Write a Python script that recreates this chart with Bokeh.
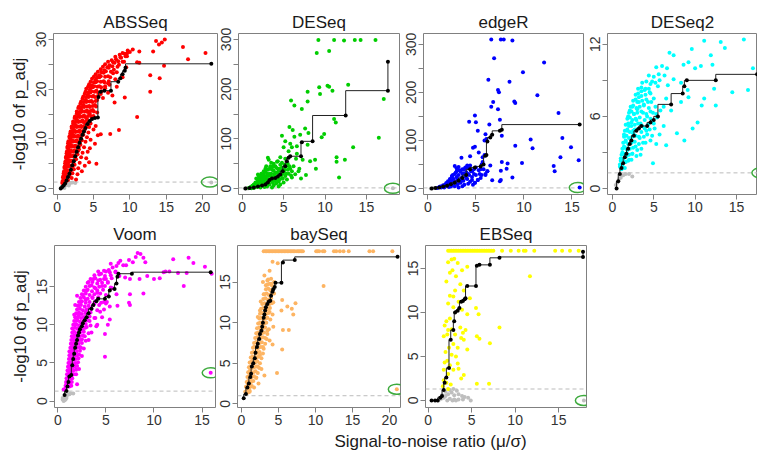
from bokeh.plotting import figure
from bokeh.layouts import row, column
from bokeh.models import FixedTicker, Span, Label
from bokeh.embed import file_html
from bokeh.resources import INLINE

FONT = "Liberation Sans"

TITLES = ["ABSSeq", "DESeq", "edgeR", "DESeq2", "Voom", "baySeq", "EBSeq"]
COLORS = ["#FF0000", "#00CD00", "#0000FF", "#00FFFF", "#FF00FF", "#FDB462", "#FFFF00"]
YLABEL = "-log10 of p_adj"
XLABEL = "Signal-to-noise ratio (\u03bc/\u03c3)"
THRESH = [1.3, 1.3, 1.3, 1.3, 1.3, 1.0, 1.3]

# ---------------- ABSSeq ----------------
ABS_SIG = [(0.7,1.1),(0.9,0.8),(1.1,1.4),(0.8,2.2),(1.0,1.9),(1.3,2.3),(1.5,1.7),(0.9,3.1),(1.1,2.8),(1.4,3.3),(1.7,2.6),(2.0,2.1),
 (1.0,4.2),(1.2,3.8),(1.5,4.4),(1.8,3.6),(2.1,3.1),(2.6,1.8),(1.1,5.1),(1.3,4.8),(1.6,5.3),(1.9,4.6),(2.3,3.9),(2.8,2.9),(5.4,5.0),
 (1.2,6.2),(1.4,5.8),(1.7,6.4),(2.0,5.6),(2.4,4.8),(2.9,4.1),(3.4,3.5),(1.3,7.1),(1.5,6.8),(1.8,7.3),(2.2,6.7),(2.6,5.9),(3.1,5.2),
 (3.8,4.6),(1.4,8.2),(1.6,7.8),(2.0,8.4),(2.4,7.7),(2.8,6.9),(3.3,6.3),(4.0,6.1),(4.4,5.3),(1.5,9.1),(1.8,8.8),(2.1,9.4),(2.5,8.6),
 (3.0,7.9),(3.5,7.2),(4.2,7.4),(1.7,10.2),(1.9,9.8),(2.3,10.4),(2.7,9.7),(3.2,8.8),(3.7,8.3),(4.5,8.1),(5.6,10.7),(1.8,11.1),(2.1,10.8),
 (2.5,11.4),(2.9,10.6),(3.4,9.7),(3.9,9.4),(5.2,9.0),(6.0,10.9),(7.3,11.0),(2.0,12.2),(2.3,11.8),(2.7,12.4),(3.1,11.7),(3.6,10.8),
 (4.1,10.3),(4.6,9.8),(8.5,11.8),(2.2,13.1),(2.5,12.8),(2.9,13.4),(3.3,12.6),(3.8,11.9),(4.3,11.3),(2.4,14.2),(2.7,13.8),(3.1,14.4),
 (3.5,13.7),(3.9,13.0),(4.4,12.4),(5.0,11.9),(11.0,14.4),(2.7,15.1),(3.0,14.8),(3.3,15.4),(3.7,14.7),(4.1,14.0),(4.6,13.1),(5.3,12.6),
 (2.9,16.2),(3.3,15.9),(3.7,16.4),(4.1,15.7),(4.5,15.0),(5.0,14.6),(3.2,17.1),(3.6,16.8),(4.0,17.4),(4.4,16.6),(4.9,15.8),(5.5,15.3),
 (7.9,17.3),(3.5,18.1),(3.9,17.8),(4.3,18.4),(4.7,17.6),(5.2,16.8),(9.3,18.3),(3.8,19.1),(4.2,18.8),(4.6,19.4),(5.0,18.6),(5.5,17.8),
 (6.3,18.2),(12.8,19.5),(4.0,20.1),(4.5,19.9),(4.9,20.4),(5.4,19.7),(6.0,19.0),(7.0,19.3),(7.6,18.7),(4.4,21.0),(4.8,20.8),(5.3,21.4),
 (5.8,20.6),(6.6,20.2),(7.2,20.9),(8.2,20.5),(4.8,22.1),(5.3,21.9),(5.8,22.4),(6.4,21.6),(7.0,21.2),(8.0,22.0),(14.1,22.2),(5.3,23.0),
 (5.8,22.8),(6.4,23.3),(7.0,22.6),(7.7,23.2),(9.0,22.4),(12.8,22.8),(6.0,24.0),(6.5,23.8),(7.1,24.3),(7.8,23.9),(9.5,24.4),(6.6,25.0),
 (7.2,24.8),(7.9,25.3),(8.5,24.9),(9.2,25.5),(11.0,25.4),(11.3,25.3),(14.7,24.7),(7.5,25.8),(8.1,26.0),(8.8,26.3),(9.6,26.6),(18.0,26.0),
 (8.6,26.9),(9.3,27.1),(10.0,27.5),(11.3,27.6),(13.2,27.6),(20.4,27.3),(9.7,27.8),(10.4,28.0),(17.3,28.5),(14.0,29.0),(14.4,29.4),
 (13.6,29.7),(14.8,30.0)]
ABS_CORE = [(0.75,1.5),(1.0,1.6),(1.2,1.4),(0.85,2.5),(1.1,2.6),(1.35,2.4),(1.6,2.5),(0.95,3.5),(1.2,3.4),(1.45,3.6),(1.75,3.5),
 (1.05,4.5),(1.3,4.4),(1.55,4.6),(1.85,4.5),(2.1,4.4),(1.15,5.5),(1.4,5.4),(1.65,5.6),(1.95,5.5),(2.2,5.4),(1.25,6.5),(1.5,6.4),
 (1.8,6.6),(2.1,6.5),(2.45,6.4),(1.35,7.5),(1.6,7.4),(1.9,7.6),(2.2,7.5),(2.55,7.4),(2.9,7.6),(1.45,8.5),(1.7,8.4),(2.0,8.6),(2.3,8.5),
 (2.65,8.4),(3.0,8.6),(1.55,9.5),(1.85,9.4),(2.15,9.6),(2.45,9.5),(2.8,9.4),(3.15,9.6),(1.7,10.5),(2.0,10.4),(2.3,10.6),(2.6,10.5),
 (2.95,10.4),(3.35,10.6),(1.85,11.5),(2.15,11.4),(2.45,11.6),(2.8,11.5),(3.15,11.4),(3.55,11.6),(2.0,12.5),(2.3,12.4),(2.65,12.6),
 (3.0,12.5),(3.35,12.4),(3.75,12.6),(4.1,12.5),(2.2,13.5),(2.5,13.4),(2.85,13.6),(3.2,13.5),(3.6,13.4),(4.0,13.6),(4.4,13.5),
 (2.45,14.5),(2.75,14.4),(3.1,14.6),(3.45,14.5),(3.85,14.4),(4.25,14.6),(4.7,14.5),(2.7,15.5),(3.05,15.4),(3.4,15.6),(3.8,15.5),
 (4.2,15.4),(4.6,15.6),(5.05,15.5),(3.0,16.5),(3.35,16.4),(3.7,16.6),(4.1,16.5),(4.5,16.4),(4.9,16.6),(5.35,16.5),(3.3,17.5),
 (3.65,17.4),(4.05,17.6),(4.45,17.5),(4.85,17.4),(5.3,17.6),(3.6,18.5),(4.0,18.4),(4.4,18.6),(4.8,18.5),(5.2,18.4),(5.6,18.6),
 (3.9,19.5),(4.3,19.4),(4.7,19.6),(5.15,19.5),(5.6,19.4),(6.1,19.6),(4.25,20.5),(4.65,20.4),(5.1,20.6),(5.55,20.5),(6.05,20.4),
 (6.6,20.6),(4.6,21.5),(5.05,21.4),(5.5,21.6),(6.0,21.5),(6.5,21.4),(7.1,21.6),(5.05,22.5),(5.5,22.4),(6.0,22.6),(6.6,22.5),
 (7.3,22.4),(5.6,23.5),(6.1,23.4),(6.7,23.6),(7.4,23.5),(8.2,23.4),(6.3,24.5),(6.9,24.4),(7.6,24.6),(8.3,24.5),(7.0,25.5),(7.7,25.4),
 (8.4,25.6),(9.0,25.5),(8.0,26.5),(8.7,26.4),(9.4,26.6),(9.0,27.3),(9.6,27.2)]
ABS_NS = [(0.5,0.1),(0.7,0.4),(0.9,0.3),(1.1,0.6),(1.3,0.8),(1.5,1.0),(1.8,1.1),(2.1,1.2),(2.5,1.1),(1.0,0.1),(1.6,0.6),(21.2,1.2)]
ABS_STEP = [(0.5,0.0),(0.7,0.3),(0.9,0.6),(1.1,1.0),(1.3,1.6),(1.5,2.3),(1.7,3.0),(1.9,3.8),(2.1,4.7),(2.3,5.5),(2.5,6.5),(2.7,7.4),
 (2.9,8.3),(3.1,9.2),(3.3,10.0),(3.5,10.8),(3.7,11.5),(3.9,12.2),(4.2,13.0),(4.5,13.6),(4.8,14.0),(5.2,14.2),(5.6,14.3),(5.7,18.4),
 (6.0,19.5),(6.5,19.7),(7.4,19.7),(8.4,21.5),(8.7,22.2),(9.0,23.0),(9.3,23.7),(9.4,24.3),(21.2,25.1)]
ABS_CIRC = (21.0, 1.3)

# ---------------- DESeq ----------------
DES_SIG = [(0.8,1),(1.0,3),(1.2,2),(1.3,6),(1.5,4),(1.6,9),(1.8,3),(1.9,12),(2.0,7),(2.1,15),(2.2,4),(2.3,10),(2.4,18),(2.5,6),
 (2.6,13),(2.7,22),(2.8,9),(2.9,16),(3.0,30),(3.0,4),(3.1,12),(3.2,25),(3.3,8),(3.3,40),(3.4,18),(3.5,52),(3.5,30),(3.6,14),(3.7,22),
 (3.8,36),(3.8,6),(3.9,28),(4.0,45),(4.0,16),(4.1,10),(4.2,32),(4.3,40),(4.3,22),(4.4,14),(4.5,28),(4.6,48),(4.6,8),(4.7,36),(4.8,20),
 (4.8,42),(4.9,30),(5.0,12),(5.1,38),(5.2,25),(5.3,45),(5.4,18),(5.5,50),(5.6,30),(5.8,40),(6.0,22),(1.7,20),(2.0,25),(2.3,30),(2.6,35),
 (2.9,45),(3.1,62),(3.2,58),(2.2,2),(2.7,3),(3.6,2),(4.4,4),(1.4,1),(1.1,0.5),(2.5,26),(2.8,40),(3.7,44),(4.2,54),(1.9,28),(2.4,12),
 (1.2,5),(1.4,8),(1.6,12),(1.7,6),(1.9,16),(2.0,10),(2.1,20),(2.2,14),(2.3,24),(2.4,9),(2.5,20),(2.6,28),(2.7,15),(2.8,34),(2.9,24),
 (3.0,18),(3.1,38),(3.2,10),(3.3,30),(3.4,45),(3.5,24),(3.6,38),(3.7,12),(3.8,50),(3.9,18),(4.0,32),(4.1,42),(4.2,20),(4.3,55),
 (4.4,36),(4.5,18),(4.6,40),(4.7,26),(4.8,52),(4.9,20),(5.0,35),(5.1,48),(5.3,30),(5.5,38),(5.7,45),(6.0,35),(6.2,45),
 (4.8,106),(5.2,95),(5.7,124),(6.1,118),(5.9,177),(6.3,167),(6.0,83),(6.6,85),(5.6,75),(5.0,83),(6.3,104),(5.8,90),(5.2,60),(6.8,35),
 (7.0,108),(4.6,63),(6.5,60),(6.6,70),(5.9,26),(6.4,29),(6.9,40),(7.1,20),(7.7,27),(7.3,58),(7.9,88),(8.2,55),(8.8,58),(7.6,121),
 (8.0,112),(7.2,160),(7.9,175),(7.9,195),(9.4,190),(9.3,204),(10.3,207),(10.5,205),(10.9,197),(12.8,209),(9.0,273),(10.5,277),
 (9.2,299),(11.1,299),(12.3,298),(13.6,299),(14.3,299),(16.1,299),(17.1,180),(16.5,102),(11.1,140),(11.3,133),(13.4,83),(12.4,58),
 (11.7,22),(11.4,63),(11.4,54),(9.9,110),(9.6,103),(8.9,40)]
DES_NS = [(0.3,0),(0.5,1),(0.7,0),(18.2,0.5)]
DES_STEP = [(0.4,0),(0.9,1),(1.4,2),(1.9,4),(2.4,6),(2.8,8),(3.1,12),(3.3,17),(3.6,20),(4.0,21),(4.3,24),(4.6,28),(4.9,35),(5.2,45),
 (5.4,55),(5.6,62),(5.8,65),(7.1,65),(7.2,93),(8.5,95),(12.5,147),(17.6,197),(17.6,255)]
DES_CIRC = (18.2, 0.5)

# ---------------- edgeR ----------------
EDG_SIG = [(1.0,1),(1.2,3),(1.4,2),(1.5,5),(1.7,4),(1.8,8),(2.0,6),(2.1,10),(2.2,3),(2.3,13),(2.4,7),(2.5,16),(2.6,10),(2.7,20),
 (2.8,5),(2.8,30),(2.9,14),(3.0,24),(3.1,9),(3.2,28),(3.3,18),(3.4,12),(3.4,35),(3.5,22),(3.6,30),(3.7,16),(3.8,40),(3.8,8),(3.9,26),
 (4.0,34),(4.1,20),(4.2,42),(4.3,28),(4.4,14),(4.5,36),(4.6,24),(4.7,8),(4.8,30),(4.9,12),(5.0,44),(5.2,18),(5.3,38),(5.5,22),(5.6,28),
 (5.8,40),(6.0,30),(6.2,36),(2.8,47),(3.2,45),(3.5,64),(4.4,67),(4.7,85),(4.9,87),(5.3,75),(5.7,65),(5.9,70),(5.7,55),(6.5,48),(6.0,28),
 (5.5,40),(4.9,12),(5.2,18),(3.0,36),(3.6,40),(2.5,26),(4.1,48),(1.3,4),(1.6,7),(1.9,11),(2.1,15),(2.3,20),(2.5,24),(2.7,14),(2.9,33),
 (3.1,20),(3.3,38),(3.5,16),(3.7,32),(3.9,44),(4.0,22),(4.2,30),(4.4,48),(4.6,18),(4.8,40),(5.0,28),(5.4,30),(5.6,50),(2.6,28),
 (3.0,42),(2.0,12),(1.7,2),(2.4,4),(3.6,5),(4.2,10),(3.2,2),(4.6,36),
 (6.6,310),(7.6,310),(7.9,310),(8.8,308),(6.9,271),(12.1,262),(9.9,242),
 (6.3,226),(8.5,222),(7.3,205),(7.4,200),(9.0,181),(9.1,178),(11.4,194),(6.8,180),(6.6,170),(7.3,165),(13.6,157),(4.9,152),(4.3,139),
 (5.0,138),(6.4,133),(7.5,143),(14.0,105),(10.7,102),(10.9,84),(9.1,89),(14.9,86),(7.7,110),(6.0,113),(6.1,103),(5.2,120),(5.9,100),
 (13.8,65),(15.7,59),(13.1,47),(13.2,36),(9.8,53),(8.3,52),(7.7,55),(8.2,41),(7.6,37),(7.6,18),(7.5,15),(8.8,23),(6.7,17),(6.2,36),
 (15.8,2)]
EDG_NS = [(0.3,0),(0.5,0.5),(0.7,1)]
EDG_STEP = [(0.4,0),(0.8,1),(1.2,2),(1.6,4),(2.0,6),(2.4,9),(2.8,12),(3.2,16),(3.6,22),(4.0,28),(4.4,40),(4.9,44),(5.5,46),(5.8,50),
 (6.0,68),(6.1,70),(6.2,98),(6.5,106),(6.7,112),(7.5,120),(7.7,122),(15.8,133)]
EDG_CIRC = (15.6, 2)

# ---------------- DESeq2 ----------------
DE2_SIG = [(15.9,12.4),(11.1,12.3),(13.1,12.2),(13.6,11.7),(9.6,11.6),(7.4,11.1),(6.9,11.3),(11.9,11.1),(9.2,10.5),(17.0,10.0),
 (8.6,10.3),(10.0,10.0),(6.6,10.0),(6.0,10.2),(10.7,10.2),(12.1,10.3),(5.3,10.1),(6.3,9.4),(7.4,9.1),(5.7,9.0),(4.8,8.9),(5.5,8.5),
 (6.7,8.6),(8.3,8.8),(12.3,8.3),(14.5,8.0),(16.4,8.2),(11.1,7.5),(12.5,6.9),(10.8,6.9),(9.2,7.6),(8.3,7.2),(9.1,8.2),(4.5,8.0),(4.0,8.3),
 (3.5,8.1),(3.2,7.6),(3.8,7.0),(4.3,7.2),(5.0,7.5),(6.5,7.5),(7.1,6.5),(6.2,6.8),(5.8,6.5),(5.3,6.2),(4.6,6.4),(4.2,6.0),(3.7,6.3),
 (3.0,6.6),(2.6,6.2),(2.9,5.7),(2.3,5.5),(2.0,5.2),(2.5,4.6),(1.8,4.8),(1.6,4.0),(1.4,3.5),(1.2,3.0),(1.0,2.5),(0.9,2.0),(1.4,4.5),
 (1.7,3.3),(2.2,3.8),(2.8,3.5),(3.2,4.3),(3.7,3.8),(4.2,4.5),(4.6,4.0),(5.3,3.7),(5.7,4.5),(6.5,3.6),(6.2,5.2),(7.8,4.6),(9.7,5.0),
 (8.7,4.0),(10.3,5.5),(4.9,2.1),(3.4,2.8),(2.0,2.4),(2.4,2.9),(1.1,1.6),(1.5,2.2),(2.7,4.9),(3.4,5.4),(3.9,5.0),(4.8,5.6),(5.1,5.0),
 (1.9,6.0),(2.4,6.8),(2.1,6.5),(3.0,7.2)]
DE2_CORE = [(0.9,1.8),(1.2,1.9),(1.5,1.7),(1.0,2.3),(1.3,2.4),(1.6,2.2),(1.9,2.3),(2.3,2.4),(1.1,2.8),(1.4,2.9),(1.7,2.7),(2.0,2.8),
 (2.4,2.9),(2.9,2.7),(1.2,3.3),(1.5,3.4),(1.8,3.2),(2.1,3.3),(2.5,3.4),(3.0,3.2),(3.5,3.3),(1.3,3.8),(1.6,3.9),(1.9,3.7),(2.3,3.8),
 (2.7,3.9),(3.2,3.7),(4.0,3.8),(1.4,4.3),(1.7,4.4),(2.0,4.2),(2.4,4.3),(2.8,4.4),(3.3,4.2),(3.8,4.3),(4.8,4.4),(1.5,4.8),(1.8,4.9),
 (2.1,4.7),(2.5,4.8),(2.9,4.9),(3.5,4.7),(4.1,4.8),(4.5,4.9),(1.6,5.3),(1.9,5.4),(2.3,5.2),(2.7,5.3),(3.1,5.4),(3.6,5.2),(4.3,5.3),
 (5.0,5.4),(1.8,5.8),(2.1,5.9),(2.4,5.7),(2.8,5.8),(3.3,5.9),(3.9,5.7),(4.6,5.8),(5.4,5.9),(2.0,6.3),(2.3,6.4),(2.6,6.2),(3.0,6.3),
 (3.5,6.4),(4.1,6.2),(4.9,6.3),(2.2,6.8),(2.5,6.9),(2.9,6.7),(3.3,6.8),(3.8,6.9),(4.4,6.7),(5.2,6.8),(2.5,7.3),(2.8,7.4),(3.2,7.2),
 (3.6,7.3),(4.1,7.4),(4.7,7.2),(2.8,7.8),(3.1,7.9),(3.5,7.7),(4.0,7.8),(4.6,7.9),(3.1,8.3),(3.5,8.4),(3.9,8.2),(4.4,8.3),(3.6,8.8),
 (4.1,8.9),(4.6,8.7),(5.2,8.8),(4.4,9.4),(5.0,9.3),(5.6,9.5)]
DE2_NS = [(0.4,0.3),(0.6,0.5),(0.8,0.8),(1.0,0.9),(1.3,1.1),(1.6,1.2),(2.0,1.2),(2.4,1.0),(17.9,1.3)]
DE2_STEP = [(0.5,0.0),(0.7,0.6),(0.9,1.2),(1.1,1.7),(1.3,2.1),(1.5,2.6),(1.7,2.9),(1.9,3.3),(2.1,3.7),(2.3,4.0),(2.6,4.4),(2.9,4.8),
 (3.2,5.0),(3.5,5.2),(4.2,5.2),(4.6,5.5),(5.0,5.7),(5.5,6.0),(7.1,7.0),(8.5,7.9),(8.7,8.5),(9.0,9.0),(12.5,9.0),(17.5,9.5)]
DE2_CIRC = (17.9, 1.3)

# ---------------- Voom ----------------
VOO_SIG = [(8.3,19.4),(8.6,19.3),(8.1,18.9),(8.9,18.8),(7.4,18.5),(7.8,18.2),(9.1,18.2),(12.0,18.6),(13.6,18.8),(14.1,18.1),
 (15.3,17.6),(6.5,18.4),(6.8,17.8),(7.1,17.8),(6.3,18.1),(6.1,17.7),(5.5,18.0),(5.7,17.5),(5.3,17.2),(6.0,16.9),(6.4,16.4),(7.0,16.2),
 (7.5,16.0),(8.5,16.0),(9.3,16.4),(10.0,16.0),(10.6,16.1),(11.2,17.0),(11.6,17.0),(12.5,16.8),(13.4,16.8),(13.1,15.1),(16.0,16.7),
 (11.0,16.9),(5.0,17.0),(4.5,16.7),(4.8,16.0),(4.2,15.8),(3.7,16.0),(3.2,15.6),(3.5,15.2),(3.9,14.8),(4.6,15.1),(5.2,15.5),(5.7,14.8),
 (6.1,14.0),(7.5,14.0),(8.9,14.1),(7.5,12.6),(7.4,12.9),(6.2,12.5),(5.4,12.4),(5.0,12.8),(4.8,13.0),(4.3,12.6),(3.8,12.8),(3.3,12.2),
 (2.9,13.3),(2.6,13.9),(2.4,13.0),(2.1,12.5),(2.9,11.6),(3.3,10.5),(3.9,10.9),(5.4,10.7),(5.2,10.0),(4.0,9.8),(3.0,9.7),(2.5,10.2),
 (2.0,10.8),(1.8,10.0),(1.5,9.5),(1.6,8.4),(1.4,7.5),(1.9,8.7),(2.8,8.5),(3.2,8.0),(4.9,8.8),(2.4,7.0),(2.0,6.0),(1.5,5.5),(1.2,5.0),
 (1.7,4.7),(2.2,4.2),(1.9,3.5),(1.3,3.2),(1.0,2.8),(0.9,2.3),(0.8,1.7),(0.6,1.5),(1.4,2.0),(2.0,2.2),(4.9,5.8),(1.1,4.0),(1.2,6.5),
 (1.7,7.2),(2.6,9.3),(2.2,11.3),(1.7,11.3),(2.0,13.8),(1.8,12.6),(3.6,13.6),(4.1,14.2),(2.7,11.0),(3.5,9.0),(2.3,8.0),(1.6,6.4),
 (2.2,9.6),(4.4,11.7),(3.0,14.5),(15.9,3.7)]
VOO_CORE = [(0.8,2.0),(1.0,2.1),(1.2,1.9),(0.9,3.0),(1.1,3.1),(1.3,2.9),(1.5,3.0),(1.0,4.0),(1.2,4.1),(1.4,3.9),(1.6,4.0),(1.9,4.1),
 (1.1,5.0),(1.3,5.1),(1.5,4.9),(1.8,5.0),(2.1,5.1),(1.2,6.0),(1.4,6.1),(1.6,5.9),(1.9,6.0),(2.2,6.1),(2.5,5.9),(1.3,7.0),(1.5,7.1),
 (1.7,6.9),(2.0,7.0),(2.3,7.1),(2.7,6.9),(1.4,8.0),(1.6,8.1),(1.8,7.9),(2.1,8.0),(2.5,8.1),(2.9,7.9),(1.5,9.0),(1.7,9.1),(2.0,8.9),
 (2.3,9.0),(2.7,9.1),(3.2,8.9),(1.6,10.0),(1.9,10.1),(2.2,9.9),(2.5,10.0),(2.9,10.1),(3.4,9.9),(4.1,10.0),(1.8,11.0),(2.1,11.1),
 (2.4,10.9),(2.8,11.0),(3.3,11.1),(3.8,10.9),(4.6,11.0),(2.0,12.0),(2.3,12.1),(2.6,11.9),(3.0,12.0),(3.5,12.1),(4.1,11.9),(4.8,12.0),
 (2.2,13.0),(2.5,13.1),(2.9,12.9),(3.3,13.0),(3.9,13.1),(4.5,12.9),(5.1,13.0),(2.5,14.0),(2.9,14.1),(3.3,13.9),(3.8,14.0),(4.4,14.1),
 (5.0,13.9),(2.9,15.0),(3.3,15.1),(3.8,14.9),(4.3,15.0),(4.9,15.1),(5.5,14.9),(3.4,16.0),(3.9,16.1),(4.4,15.9),(5.0,16.0),(5.6,16.1),
 (4.2,17.0),(4.8,17.1),(5.4,16.9),(6.0,17.0),(0.85,2.5),(1.05,2.6),(1.25,2.4),(1.45,2.5),(0.95,3.5),(1.15,3.6),(1.4,3.4),(1.65,3.5),
 (1.05,4.5),(1.25,4.6),(1.5,4.4),(1.75,4.5),(2.0,4.6),(1.15,5.5),(1.35,5.6),(1.6,5.4),(1.85,5.5),(2.15,5.6),(1.25,6.5),(1.45,6.6),
 (1.7,6.4),(1.95,6.5),(2.3,6.6),(1.35,7.5),(1.6,7.6),(1.85,7.4),(2.15,7.5),(2.5,7.6),(1.45,8.5),(1.7,8.6),(1.95,8.4),(2.25,8.5),
 (2.6,8.6),(1.55,9.5),(1.8,9.6),(2.1,9.4),(2.45,9.5),(2.85,9.6),(1.7,10.5),(2.0,10.6),(2.3,10.4),(2.65,10.5),(3.1,10.6),(1.9,11.5),
 (2.2,11.6),(2.5,11.4),(2.9,11.5),(3.4,11.6),(2.1,12.5),(2.4,12.6),(2.8,12.4),(3.2,12.5),(3.7,12.6),(2.35,13.5),(2.7,13.6),(3.1,13.4),
 (3.6,13.5),(4.2,13.6),(2.7,14.5),(3.1,14.6),(3.55,14.4),(4.1,14.5),(4.7,14.6),(3.1,15.5),(3.6,15.6),(4.1,15.4),(4.6,15.5),(5.2,15.6),
 (3.8,16.5),(4.3,16.6),(4.9,16.4),(5.5,16.5)]
VOO_NS = [(0.5,0.2),(0.6,0.3),(0.7,0.1),(0.8,0.5),(0.9,0.4),(1.0,0.8),(1.2,0.9),(1.3,1.0),(1.6,1.0),(0.6,0.0),(0.5,0.4),(0.8,0.2)]
VOO_STEP = [(0.7,0.8),(0.9,1.3),(1.0,1.9),(1.1,2.5),(1.2,3.2),(1.4,3.4),(1.5,4.7),(1.6,5.5),(1.7,6.2),(1.8,7.0),(1.9,7.5),(2.0,8.0),
 (2.1,8.6),(2.2,9.0),(2.3,9.4),(2.5,9.8),(2.6,10.2),(2.8,10.6),(3.0,11.0),(3.2,11.5),(3.5,12.1),(3.7,12.6),(4.0,13.1),(4.2,13.4),
 (4.9,13.4),(5.3,13.7),(5.4,14.5),(5.9,14.7),(6.1,15.4),(6.2,16.3),(6.3,16.7),(7.7,16.7),(15.9,16.9)]
VOO_CIRC = (15.9, 3.7)

# ---------------- baySeq ----------------
BAY_TOP_X = [3.0,3.2,3.4,3.6,3.8,4.0,4.2,4.4,4.6,4.8,5.0,5.2,5.4,5.6,5.8,6.0,6.2,6.4,6.6,6.8,7.0,7.2,7.5,7.7,7.9,8.1,8.3,
 10.1,10.3,10.5,11.0,11.2,12.5,12.8,13.3,13.8,14.5,17.3,17.8,20.4]
BAY_TOP_Y = 18.8
BAY_SIG = [(4.2,17.5),(4.9,17.3),(3.8,16.4),(3.1,15.8),(3.5,15.2),(2.9,15.0),(3.3,14.6),(4.0,14.8),(4.4,15.0),(11.1,14.5),(3.0,13.5),
 (4.0,13.0),(3.7,12.2),(4.3,12.5),(5.5,12.8),(6.2,12.0),(7.3,12.4),(6.8,11.7),(7.0,11.0),(5.4,11.5),(4.2,11.0),(3.8,11.3),(2.6,12.6),
 (2.5,11.5),(2.2,10.7),(3.3,10.5),(2.9,9.8),(5.6,9.1),(6.4,9.1),(4.3,9.5),(3.5,9.0),(2.7,8.7),(2.4,8.3),(3.2,8.1),(2.0,7.6),(1.7,7.0),
 (3.8,7.8),(4.2,7.3),(2.9,7.0),(5.5,6.7),(2.5,6.0),(1.9,5.5),(1.5,5.3),(1.4,4.6),(1.2,4.2),(2.2,4.6),(2.7,4.3),(3.1,3.5),(4.8,3.8),
 (2.0,3.2),(1.0,3.4),(1.3,2.8),(0.9,2.5),(0.7,2.0),(0.6,1.5),(1.1,1.6),(1.7,2.0),(2.3,2.5),(2.1,6.8),(2.6,10.0),(3.5,11.7),(21.0,1.8)]
BAY_CORE = [(0.5,1.5),(0.7,1.6),(0.9,1.4),(1.1,1.5),(0.6,2.1),(0.8,2.2),(1.0,2.0),(1.2,2.1),(1.4,2.2),(0.7,2.7),(0.9,2.8),(1.1,2.6),
 (1.3,2.7),(1.6,2.8),(0.8,3.3),(1.0,3.4),(1.2,3.2),(1.4,3.3),(1.7,3.4),(2.0,3.2),(0.9,3.9),(1.1,4.0),(1.3,3.8),(1.6,3.9),(1.9,4.0),
 (2.2,3.8),(1.0,4.5),(1.2,4.6),(1.45,4.4),(1.7,4.5),(2.0,4.6),(2.4,4.4),(1.1,5.1),(1.35,5.2),(1.6,5.0),(1.85,5.1),(2.15,5.2),(2.5,5.0),
 (1.25,5.7),(1.5,5.8),(1.75,5.6),(2.0,5.7),(2.3,5.8),(2.7,5.6),(1.4,6.3),(1.65,6.4),(1.9,6.2),(2.15,6.3),(2.45,6.4),(2.9,6.2),
 (1.55,6.9),(1.8,7.0),(2.05,6.8),(2.3,6.9),(2.6,7.0),(3.0,6.8),(1.7,7.5),(1.95,7.6),(2.2,7.4),(2.45,7.5),(2.75,7.6),(3.2,7.4),
 (1.85,8.1),(2.1,8.2),(2.35,8.0),(2.6,8.1),(2.9,8.2),(3.4,8.0),(2.0,8.7),(2.25,8.8),(2.5,8.6),(2.75,8.7),(3.05,8.8),(3.5,8.6),
 (2.1,9.3),(2.4,9.4),(2.65,9.2),(2.9,9.3),(3.2,9.4),(3.7,9.2),(2.25,9.9),(2.5,10.0),(2.8,9.8),(3.05,9.9),(3.35,10.0),(2.4,10.5),
 (2.65,10.6),(2.95,10.4),(3.2,10.5),(3.5,10.6),(3.9,10.4),(2.5,11.1),(2.8,11.2),(3.1,11.0),(3.35,11.1),(3.65,11.2),(2.65,11.7),
 (2.95,11.8),(3.25,11.6),(3.55,11.7),(3.85,11.8),(2.8,12.3),(3.1,12.4),(3.4,12.2),(3.7,12.3),(4.1,12.4),(2.95,12.9),(3.25,13.0),
 (3.55,12.8),(3.85,12.9),(3.1,13.5),(3.4,13.6),(3.7,13.4),(4.0,13.5),(4.4,13.6),(3.3,14.1),(3.6,14.2),(3.9,14.0),(4.2,14.1),
 (3.5,14.7),(3.8,14.8),(4.1,14.6),(3.6,15.3),(4.0,15.4)]
BAY_NS = []
BAY_STEP = [(0.3,0.7),(0.6,1.2),(0.8,2.0),(1.0,2.5),(1.2,3.3),(1.3,3.7),(1.4,4.6),(1.6,5.0),(1.8,5.6),(1.9,6.3),(2.1,7.0),(2.2,7.4),
 (2.4,8.0),(2.5,8.6),(2.7,9.0),(2.8,9.5),(2.9,10.0),(3.0,10.6),(3.1,11.0),(3.2,11.5),(3.3,11.9),(3.5,12.3),(3.7,12.6),(3.9,12.7),
 (4.0,13.3),(4.2,13.8),(4.3,14.1),(4.5,14.4),(4.6,14.9),(5.4,14.9),(5.6,17.4),(7.2,17.7),(21.1,18.1)]
BAY_CIRC = (21.0, 1.8)

# ---------------- EBSeq ----------------
EBS_TOP_X = [2.3,2.5,2.7,2.9,3.1,3.3,3.5,3.7,3.9,4.1,4.3,4.5,4.7,4.9,5.1,5.3,5.5,5.7,5.9,6.1,6.3,6.5,6.7,6.9,7.1,7.3,7.5,
 8.5,9.5,10.4,11.0,11.2,12.2,14.6,15.4,16.3,17.3]
EBS_TOP_Y = 17.0
EBS_SIG = [(2.7,16.0),(3.0,16.1),(2.3,15.7),(3.4,15.6),(4.5,15.2),(3.9,14.8),(2.5,14.5),(2.8,14.8),(3.2,14.1),(2.1,13.5),(11.7,14.1),
 (3.7,13.2),(3.1,12.5),(4.1,12.5),(2.5,11.9),(2.9,11.8),(2.3,11.0),(2.9,10.6),(3.5,11.2),(4.8,11.6),(5.5,10.5),(5.8,9.8),(3.9,10.3),
 (4.5,9.8),(2.5,9.3),(2.1,9.0),(2.3,8.0),(1.9,8.5),(2.7,8.1),(3.1,7.5),(3.7,8.3),(4.3,8.0),(4.0,7.7),(8.2,8.3),(1.8,7.3),(2.2,7.5),
 (3.8,7.1),(4.1,6.9),(5.6,7.3),(5.9,7.0),(7.1,6.5),(2.4,6.0),(2.9,6.4),(3.4,6.0),(4.5,5.8),(2.0,5.5),(2.7,5.2),(1.9,4.3),(2.2,4.5),
 (2.5,4.0),(3.4,4.2),(3.5,3.6),(1.8,3.5),(2.3,3.0),(3.8,2.5),(4.1,2.9),(1.8,2.3),(2.1,2.0),(2.6,1.8),(5.6,1.9),(7.0,1.9),(1.7,1.6),
 (2.3,1.3),(2.9,3.5),(3.2,5.0)]
EBS_NS = [(1.2,0.0),(1.5,0.2),(1.8,0.3),(2.0,0.5),(2.2,0.0),(2.5,0.2),(2.8,0.0),(3.0,0.1),(3.2,0.0),(3.5,0.1),(2.3,0.7),(2.7,0.9),
 (2.0,1.0),(2.5,1.2),(3.0,0.6),(3.5,0.7),(3.9,0.5),(4.2,0.4),(4.6,0.3),(4.9,0.0),(1.6,0.6),(1.3,0.3),(3.3,1.1),(4.0,0.1),(2.9,1.3),
 (17.9,0.0)]
EBS_STEP = [(0.4,0.0),(0.8,0.0),(1.1,0.0),(1.4,0.3),(1.6,0.5),(1.8,1.2),(1.9,2.0),(2.1,2.6),(2.4,3.7),(2.6,6.9),(2.9,8.0),(3.0,9.0),
 (3.1,10.0),(3.4,10.2),(3.6,10.5),(3.8,11.2),(4.0,11.3),(4.2,11.5),(4.3,11.6),(4.5,13.0),(5.5,13.0),(5.6,15.3),(5.9,15.4),(7.1,15.4),
 (8.2,16.2),(17.8,16.3),(17.8,16.9)]
EBS_CIRC = (17.9, 0.0)

# axis ranges and ticks
XRANGES = [(-0.5, 22.05), (-0.45, 19.0), (-0.45, 16.2), (-0.6, 17.55), (-0.35, 16.4), (-0.54, 21.5), (-0.3, 18.2)]
YRANGES = [(-1.2, 31.2), (-12, 312), (-12.4, 322.4), (-0.5, 12.9), (-0.85, 20.4), (-0.45, 19.5), (-0.8, 17.6)]
XTICKS = [[0, 5, 10, 15, 20], [0, 5, 10, 15], [0, 5, 10, 15], [0, 5, 10, 15], [0, 5, 10, 15], [0, 5, 10, 15, 20], [0, 5, 10, 15]]
YTICKS = [[0, 10, 20, 30], [0, 100, 200, 300], [0, 100, 200, 300], [0, 6, 12], [0, 5, 10, 15], [0, 5, 10, 15], [0, 5, 10, 15]]
YMINOR = [[5, 15, 25], [50, 150, 250], [50, 150, 250], [3, 9], [], [], []]


def split(pts):
    return [p[0] for p in pts], [p[1] for p in pts]


def panel(i, sig, ns, step, circ, width, height, mbl, mbt, mbb, mbr=1, ylabel=None, title_offset=0):
    p = figure(width=width, height=height, x_range=XRANGES[i], y_range=YRANGES[i],
               output_backend="svg", toolbar_location=None, title=TITLES[i],
               min_border_left=mbl, min_border_right=mbr, min_border_top=mbt, min_border_bottom=mbb)
    p.title.text_font = FONT
    p.title.text_font_size = "17px"
    p.title.text_font_style = "normal"
    p.title.align = "center"
    p.title.standoff = 3
    p.title.offset = title_offset
    p.title.text_color = "#1a1a1a"
    p.xgrid.visible = False
    p.ygrid.visible = False
    p.outline_line_color = "#808080"
    p.outline_line_width = 1
    for ax in (p.xaxis[0], p.yaxis[0]):
        ax.axis_line_color = None
        ax.major_tick_line_color = "#808080"
        ax.minor_tick_line_color = "#808080"
        ax.major_tick_out = 5
        ax.major_tick_in = 0
        ax.minor_tick_out = 5
        ax.minor_tick_in = 0
        ax.major_label_text_font = FONT
        ax.major_label_text_font_size = "14px"
        ax.major_label_text_color = "#333333"
        ax.major_label_standoff = 2
    p.xaxis.ticker = FixedTicker(ticks=XTICKS[i])
    p.yaxis.ticker = FixedTicker(ticks=YTICKS[i], minor_ticks=YMINOR[i])
    p.yaxis.major_label_orientation = "vertical"
    if ylabel:
        p.yaxis.axis_label = ylabel
        p.yaxis.axis_label_text_font = FONT
        p.yaxis.axis_label_text_font_size = "17px"
        p.yaxis.axis_label_text_font_style = "normal"
        p.yaxis.axis_label_text_color = "#1a1a1a"
        p.yaxis.axis_label_standoff = 5

    thr = Span(location=THRESH[i], dimension="width", line_color="#BBBBBB", line_dash="4 3", line_width=1, level="underlay")
    p.add_layout(thr)
    if ns:
        gx, gy = split(ns)
        p.scatter(gx, gy, size=4, fill_color="#BEBEBE", line_color=None)
    sx, sy = split(sig)
    p.scatter(sx, sy, size=4, fill_color=COLORS[i], line_color=None)
    bx, by = split(step)
    p.step(bx, by, mode="before", line_color="#222222", line_width=1)
    p.scatter(bx, by, size=4, fill_color="#000000", line_color=None)
    p.ellipse(x=[circ[0]], y=[circ[1]], width=17, height=10, width_units="screen", height_units="screen",
              fill_color=None, line_color="#3DAA3D", line_width=1.5)
    return p


def with_top(sig, tx, ty):
    return [(x, ty) for x in tx] + sig


p1 = panel(0, ABS_SIG + ABS_CORE, ABS_NS, ABS_STEP, ABS_CIRC, 218, 218, 53, 33, 24, ylabel=YLABEL)
p2 = panel(1, DES_SIG, DES_NS, DES_STEP, DES_CIRC, 182, 218, 20, 33, 24)
p3 = panel(2, EDG_SIG, EDG_NS, EDG_STEP, EDG_CIRC, 184, 218, 23, 33, 24)
p4 = panel(3, DE2_SIG + DE2_CORE, DE2_NS, DE2_STEP, DE2_CIRC, 173, 218, 23, 33, 24, mbr=0, title_offset=5)
p5 = panel(4, VOO_SIG + VOO_CORE, VOO_NS, VOO_STEP, VOO_CIRC, 216, 212, 54, 27, 23, ylabel=YLABEL)
p6 = panel(5, with_top(BAY_SIG + BAY_CORE, BAY_TOP_X, BAY_TOP_Y), BAY_NS, BAY_STEP, BAY_CIRC, 185, 212, 21, 27, 23)
p7 = panel(6, with_top(EBS_SIG, EBS_TOP_X, EBS_TOP_Y), EBS_NS, EBS_STEP, EBS_CIRC, 186, 212, 24, 27, 23)

lab = figure(width=757, height=22, x_range=(0, 757), y_range=(0, 22), output_backend="svg",
             toolbar_location=None, min_border=0)
lab.axis.visible = False
lab.grid.visible = False
lab.outline_line_color = None
lab.add_layout(Label(x=430, y=11, x_units="screen", y_units="screen", text=XLABEL, text_align="center",
                     text_baseline="middle", text_font=FONT, text_font_size="17px", text_color="#1a1a1a"))

layout = column(row(p1, p2, p3, p4), row(p5, p6, p7), lab)
open("out.html", "w").write(file_html(layout, INLINE))
